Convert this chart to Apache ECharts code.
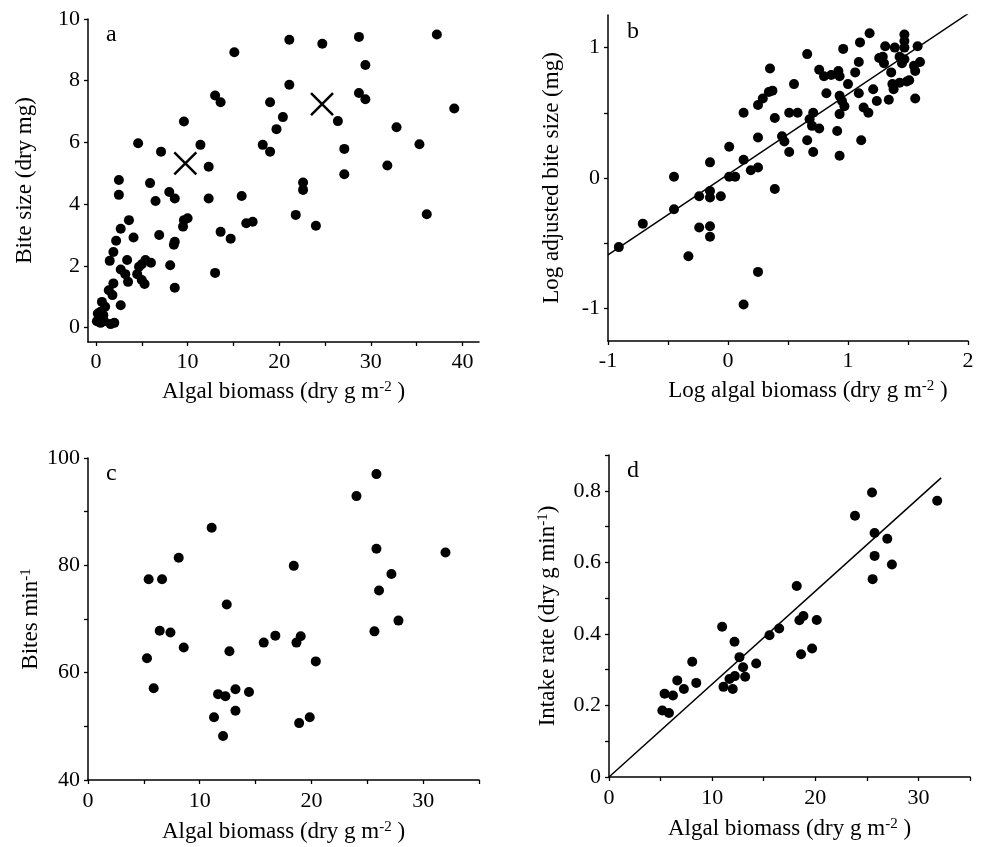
<!DOCTYPE html>
<html><head><meta charset="utf-8">
<script src="https://cdn.jsdelivr.net/npm/echarts@6/dist/echarts.min.js"></script>
<style>html,body{margin:0;padding:0;background:#fff}#c{width:983px;height:847px}</style>
</head><body><div id="c"></div>
<script>
// ---------- Panel a: bite size vs algal biomass ----------
const aBiomass = [15.1,13.0,13.6,19.0,20.4,19.7,9.6,4.6,7.1,11.4,12.3,18.2,19.0,2.5,2.5,5.9,6.5,8.0,8.6,12.3,15.9,3.6,2.7,2.2,1.9,1.5,4.1,6.9,8.6,8.5,9.6,10.0,9.5,13.6,14.7,16.4,17.1,3.4,2.7,3.2,3.5,4.7,4.5,5.0,5.3,5.4,6.0,5.0,8.1,8.6,13.0,1.9,1.4,1.8,0.65,1.0,2.7,0.5,0.8,0.3,0.5,1.6,2.0,0.9,0.1,0.2,
  21.1,24.7,28.7,29.4,21.1,28.7,29.4,26.4,32.8,35.3,27.1,31.8,27.1,22.6,22.6,21.8,24.0,36.1,37.2,39.1];
const aBiteSize = [8.92,7.52,7.30,7.30,6.82,6.43,6.68,5.97,5.70,5.92,5.21,5.92,5.70,4.78,4.30,4.68,4.10,4.39,4.18,4.18,4.26,3.48,3.20,2.81,2.45,2.16,2.92,3.00,2.78,2.68,3.48,3.54,3.27,3.10,2.88,3.38,3.43,2.19,1.88,1.73,1.48,1.97,1.73,1.54,1.41,2.19,2.10,2.05,2.02,1.29,1.77,1.43,1.21,1.05,0.83,0.67,0.72,0.51,0.40,0.29,0.15,0.11,0.15,0.20,0.20,0.45,
  9.33,9.20,9.42,8.51,7.87,7.60,7.40,6.69,6.49,5.94,5.79,5.25,4.97,4.70,4.46,3.65,3.30,3.67,9.50,7.10];
const aMeanBiomass = [9.75, 24.67];
const aMeanBite = [5.32, 7.24];

// ---------- Panel b: log adjusted bite size vs log biomass ----------
const bLogBiomass = [-0.91,-0.71,-0.45,-0.45,-0.33,-0.24,-0.24,-0.15,-0.15,-0.15,-0.15,-0.15,-0.06,0.01,0.01,0.06,0.13,0.13,0.13,0.19,0.25,0.25,0.25,0.25,0.29,0.34,0.35,0.37,0.39,0.39,0.66,0.55,0.51,0.58,0.45,0.47,0.51,0.66,0.71,0.68,0.71,0.70,0.76,0.76,0.80,0.86,0.92,0.93,0.82,0.91,0.93,0.93,0.95,0.97,0.93,1.00,0.96,1.06,1.09,1.10,1.18,1.09,1.11,1.13,1.17,1.21,1.24,1.26,1.29,1.31,1.30,1.34,1.36,1.37,1.38,1.39,1.43,1.45,1.43,1.47,1.47,1.47,1.47,1.49,1.51,1.56,1.55,1.58,1.60,1.56];
const bLogBite = [-0.53,-0.35,0.01,-0.24,-0.60,-0.14,-0.38,0.12,-0.10,-0.15,-0.37,-0.45,-0.14,0.24,0.01,0.01,0.50,0.14,-0.97,0.06,0.08,0.31,0.56,-0.72,0.61,0.66,0.84,0.67,0.46,-0.085,0.95,0.72,0.50,0.50,0.32,0.28,0.20,0.29,0.20,0.45,0.50,0.40,0.38,0.83,0.78,0.79,0.82,0.78,0.65,0.36,0.17,0.63,0.59,0.55,0.49,0.72,0.99,0.81,0.89,1.04,1.11,0.65,0.29,0.54,0.50,0.68,0.59,0.92,0.93,1.01,0.88,0.60,0.81,0.72,0.68,1.00,0.93,0.88,0.73,1.10,1.05,1.00,0.91,0.74,0.75,0.82,0.86,1.01,0.89,0.61];
const bFitX = [-1, 2];
const bFitY = [-0.59, 1.26];

// ---------- Panel c: bites per minute vs algal biomass ----------
const cBiomass = [11.07,8.12,5.43,6.63,12.42,6.42,7.38,8.57,5.28,12.66,15.73,16.77,5.88,11.64,12.3,13.2,14.41,13.2,11.28,12.09,25.82,24.03,25.82,32.0,18.42,27.16,26.05,27.79,25.64,18.66,19.04,20.39,18.9,19.85];
const cBitesPerMin = [87.0,81.4,77.4,77.4,72.7,67.8,67.5,64.7,62.7,64.0,65.6,66.9,57.1,56.0,55.6,56.9,56.4,52.9,51.7,48.2,97.0,92.9,83.1,82.4,79.9,78.4,75.3,69.7,67.7,65.6,66.8,62.1,50.6,51.7];

// ---------- Panel d: intake rate vs algal biomass ----------
const dBiomass = [10.97,8.07,12.17,12.65,13.0,14.27,15.56,16.5,6.62,7.26,8.46,5.39,6.2,5.17,5.81,11.1,11.68,12.2,12.0,13.2,25.5,23.85,31.82,25.75,26.98,25.75,27.43,25.56,18.2,18.85,18.46,20.14,19.69,18.62];
const dIntake = [0.420,0.322,0.378,0.335,0.307,0.317,0.396,0.415,0.270,0.246,0.263,0.233,0.228,0.186,0.179,0.252,0.274,0.282,0.246,0.280,0.795,0.730,0.772,0.682,0.666,0.618,0.594,0.553,0.534,0.450,0.438,0.439,0.359,0.343];
const dFitX = [0, 32.2];
const dFitY = [0, 0.836];

// ---------- ticks & labels ----------
const aXTicks = [0,5,10,15,20,25,30,35,40], aXLabels = [0,10,20,30,40];
const aYTicks = [0,2,4,6,8,10], aYLabels = [0,2,4,6,8,10];
const bXTicks = [-1,-0.5,0,0.5,1,1.5,2], bXLabels = [-1,0,1,2];
const bYTicks = [-1,-0.5,0,0.5,1], bYLabels = [-1,0,1];
const cXTicks = [0,5,10,15,20,25,30,35], cXLabels = [0,10,20,30];
const cYTicks = [40,50,60,70,80,90,100], cYLabels = [40,60,80,100];
const dXTicks = [0,5,10,15,20,25,30,35], dXLabels = [0,10,20,30];
const dYTicks = [0,0.1,0.2,0.3,0.4,0.5,0.6,0.7,0.8,0.9], dYLabels = [0,0.2,0.4,0.6,0.8];

const FONT = '"Liberation Serif","Times New Roman",serif';
const zip = (xs, ys) => xs.map((x, i) => [x, ys[i]]);
const nameStyle = (extra) => Object.assign({
  fontFamily: FONT, fontSize: 23, color: '#000',
  rich: { sup: { fontFamily: FONT, fontSize: 15, color: '#000', verticalAlign: 'top', lineHeight: 15 } }
}, extra || {});

function axis(gridIndex, min, max, ticks, labels, name, gap, extraName, isY, labelMargin) {
  return {
    type: 'value', gridIndex, min, max, name,
    nameLocation: 'middle', nameGap: gap, nameRotate: isY ? 90 : 0,
    nameTextStyle: nameStyle(extraName),
    axisLine: { show: true, onZero: false, lineStyle: { color: '#000', width: 1.5 } },
    axisTick: { show: true, inside: false, length: 4, customValues: ticks, lineStyle: { color: '#000', width: 1.3 } },
    axisLabel: { customValues: labels, color: '#000', fontFamily: FONT, fontSize: 22, margin: labelMargin || (isY ? 8 : 8) },
    splitLine: { show: false }
  };
}

const letter = { fontFamily: FONT, fontSize: 24, fontWeight: 'normal', color: '#000' };
const dot = { type: 'scatter', symbol: 'circle', symbolSize: 10, itemStyle: { color: '#000', opacity: 1 }, silent: true };
const chart = echarts.init(document.getElementById('c'), null, { renderer: 'canvas' });
chart.setOption({
  animation: false,
  backgroundColor: '#fff',
  title: [
    { text: 'a', left: 101, top: 18, textStyle: letter },
    { text: 'b', left: 622, top: 15, textStyle: letter },
    { text: 'c', left: 101, top: 457, textStyle: letter },
    { text: 'd', left: 622, top: 454, textStyle: letter }
  ],
  grid: [
    { left: 88, top: 19, width: 391, height: 323 },
    { left: 608, top: 15, width: 360, height: 326 },
    { left: 88, top: 458, width: 391, height: 322 },
    { left: 609, top: 455, width: 361, height: 322 }
  ],
  xAxis: [
    axis(0, -0.87, 41.8, aXTicks, aXLabels, 'Algal biomass (dry g m{sup|-2} )', 38, null, false, 9),
    axis(1, -1, 2, bXTicks, bXLabels, 'Log algal biomass (dry g m{sup|-2} )', 38, { padding: [0, 0, 0, 40] }, false, 9),
    axis(2, 0, 35, cXTicks, cXLabels, 'Algal biomass (dry g m{sup|-2} )', 40, null, false, 10),
    axis(3, 0, 35, dXTicks, dXLabels, 'Algal biomass (dry g m{sup|-2} )', 40, null, false, 10)
  ],
  yAxis: [
    axis(0, -0.47, 10, aYTicks, aYLabels, 'Bite size (dry mg)', 52, null, true),
    axis(1, -1.25, 1.25, bYTicks, bYLabels, 'Log adjusted bite size (mg)', 45, null, true),
    axis(2, 40, 100, cYTicks, cYLabels, 'Bites min{sup|-1}', 46, null, true),
    axis(3, 0, 0.9, dYTicks, dYLabels, 'Intake rate (dry g min{sup|-1})', 50, null, true)
  ],
  series: [
    Object.assign({}, dot, { xAxisIndex: 0, yAxisIndex: 0, data: zip(aBiomass, aBiteSize) }),
    { type: 'scatter', xAxisIndex: 0, yAxisIndex: 0, data: zip(aMeanBiomass, aMeanBite), silent: true,
      symbol: 'path://M0,0L10,10M10,0L0,10', symbolSize: 22,
      itemStyle: { color: 'none', borderColor: '#000', borderWidth: 2.5, opacity: 1 } },
    Object.assign({}, dot, { xAxisIndex: 1, yAxisIndex: 1, data: zip(bLogBiomass, bLogBite) }),
    { type: 'line', xAxisIndex: 1, yAxisIndex: 1, data: zip(bFitX, bFitY), symbol: 'none', silent: true,
      lineStyle: { color: '#000', width: 1.5 } },
    Object.assign({}, dot, { xAxisIndex: 2, yAxisIndex: 2, data: zip(cBiomass, cBitesPerMin) }),
    Object.assign({}, dot, { xAxisIndex: 3, yAxisIndex: 3, data: zip(dBiomass, dIntake) }),
    { type: 'line', xAxisIndex: 3, yAxisIndex: 3, data: zip(dFitX, dFitY), symbol: 'none', silent: true,
      lineStyle: { color: '#000', width: 1.5 } }
  ]
});
</script></body></html>
